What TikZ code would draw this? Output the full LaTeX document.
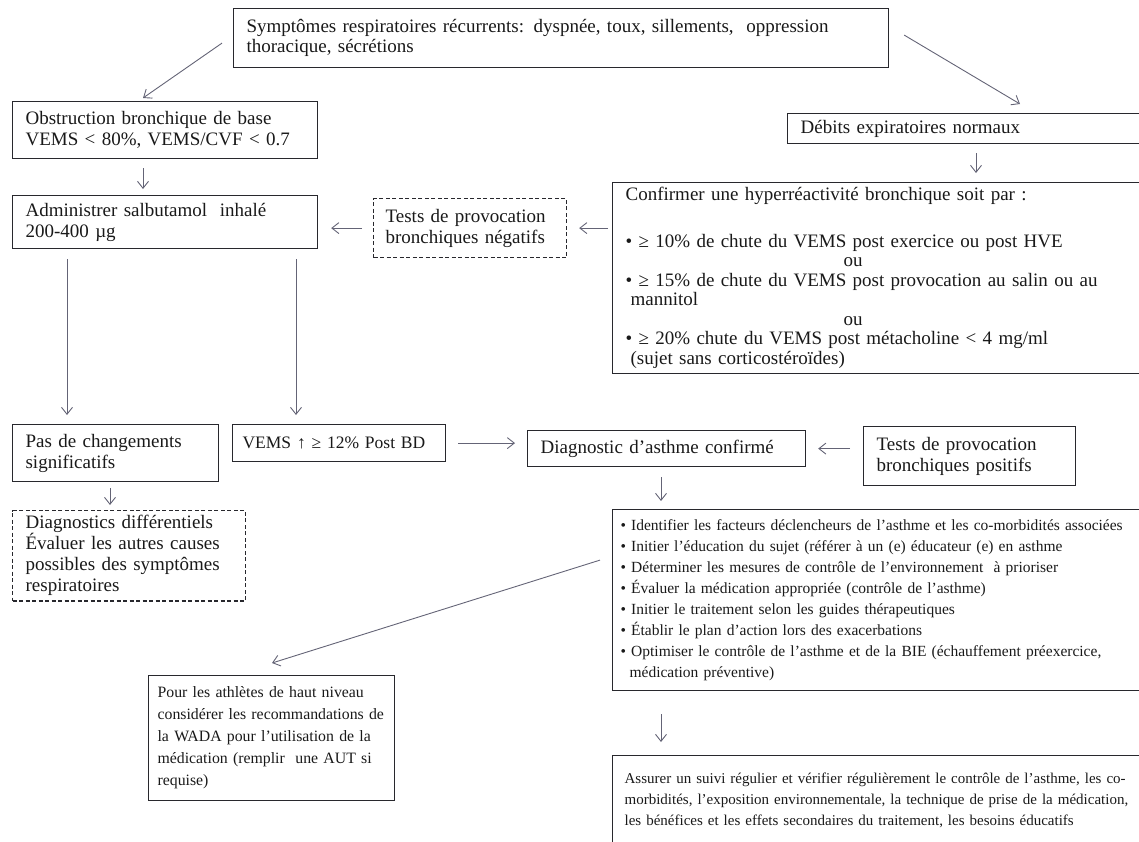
\documentclass[tikz,border=0pt]{standalone}
\usepackage{fontspec}
\setmainfont{Liberation Serif}
\definecolor{BoxLine}{RGB}{40,40,45}
\definecolor{ArrowGray}{RGB}{100,100,118}
\definecolor{TextDark}{RGB}{25,25,25}
\usetikzlibrary{arrows.meta,calc}
\newcommand{\fsz}[2]{\fontsize{#1}{#2}\selectfont}

\begin{document}
\begin{tikzpicture}[x=1pt,y=-1pt,
  box/.style={draw=BoxLine,line width=1.2pt,anchor=north west,align=left,
    inner xsep=13pt,inner ysep=5pt,text=TextDark,font=\fsz{19}{21}},
  dbox/.style={box,dash pattern=on 4pt off 2.5pt},
  arr/.style={ArrowGray,line width=0.9pt,-{Straight Barb[length=7pt,width=11pt]}}]
\useasboundingbox (0,0) rectangle (1139,841);
\clip (0,0) rectangle (1139,841);
% Symptoms
\node[box,text width=629pt,minimum height=59pt,font=\fsz{19}{20}] (symp) at (233,8)
  {Symptômes respiratoires récurrents: dyspnée, toux, sillements,~ oppression\\thoracique, sécrétions};
% Left column
\node[box,text width=279pt,minimum height=57pt] (obst) at (12,101)
  {Obstruction bronchique de base\\VEMS < 80\%, VEMS/CVF < 0.7};
\node[box,text width=279pt,minimum height=53pt] (salb) at (12,195)
  {Administrer salbutamol~ inhalé\\200-400 µg};
\node[dbox,inner xsep=12pt,text width=169pt,minimum height=59pt] (neg) at (373,198)
  {Tests de provocation\\bronchiques négatifs};
% Right column
\node[box,text width=347pt,minimum height=30pt] (deb) at (787,113) {Débits expiratoires normaux};
\node[box,text width=522pt,minimum height=190pt,font=\fsz{19}{19.5}] (conf) at (612,182)
  {Confirmer une hyperréactivité bronchique soit par :\\[27pt]
   • ≥ 10\% de chute du VEMS post exercice ou post HVE\\
   \hspace*{218pt}ou\\
   • ≥ 15\% de chute du VEMS post provocation au salin ou au\\
   \hspace*{5pt}mannitol\\
   \hspace*{218pt}ou\\
   • ≥ 20\% chute du VEMS post métacholine < 4 mg/ml\\
   \hspace*{5pt}(sujet sans corticostéroïdes)};
% Middle row
\node[box,text width=180pt,minimum height=57pt] (pas) at (12,424) {Pas de changements\\significatifs};
\node[box,inner xsep=10pt,text width=193pt,minimum height=37pt,font=\fsz{17.5}{21}] (vems) at (232,424) {VEMS ↑ ≥ 12\% Post BD};
\node[box,text width=252pt,minimum height=36pt] (diag) at (527,430) {Diagnostic d’asthme confirmé};
\node[box,text width=186pt,minimum height=59pt] (pos) at (863,426) {Tests de provocation\\bronchiques positifs};
% Lower boxes
\node[dbox,text width=207pt,minimum height=90pt] (diff) at (12,510)
  {Diagnostics différentiels\\Évaluer les autres causes\\possibles des symptômes\\respiratoires};
\node[box,inner xsep=8pt,text width=532pt,minimum height=181pt,font=\fsz{15.5}{21}] (plan) at (612,509)
  {• Identifier les facteurs déclencheurs de l’asthme et les co-morbidités associées\\
   • Initier l’éducation du sujet (référer à un (e) éducateur (e) en asthme\\
   • Déterminer les mesures de contrôle de l’environnement~ à prioriser\\
   • Évaluer la médication appropriée (contrôle de l’asthme)\\
   • Initier le traitement selon les guides thérapeutiques\\
   • Établir le plan d’action lors des exacerbations\\
   • Optimiser le contrôle de l’asthme et de la BIE (échauffement préexercice,\\
   \hspace*{9pt}médication préventive)};
\node[box,inner xsep=9pt,text width=228pt,minimum height=125pt,font=\fsz{15.8}{22}] (wada) at (148,675)
  {Pour les athlètes de haut niveau\\considérer les recommandations de\\la WADA pour l’utilisation de la\\médication (remplir~ une AUT si\\requise)};
\node[box,inner xsep=12pt,text width=524pt,minimum height=90pt,font=\fsz{15}{21}] (suivi) at (612,755)
  {Assurer un suivi régulier et vérifier régulièrement le contrôle de l’asthme, les co-\\
   morbidités, l’exposition environnementale, la technique de prise de la médication,\\
   les bénéfices et les effets secondaires du traitement, les besoins éducatifs};
% Arrows
\draw[arr] ($(symp.west)+(-11,5)$) -- ($(obst.north west)+(131,-3)$);
\draw[arr] ($(symp.east)+(15,-3)$) -- ($(deb.north west)+(233,-9)$);
\draw[arr] ($(deb.south west)+(189,9)$) -- ($(conf.north west)+(364,-9)$);
\draw[arr] ($(obst.south west)+(131,9)$) -- ($(salb.north west)+(131,-6)$);
\draw[arr] ($(neg.west)+(-11,0)$) -- ($(salb.east |- neg.west)+(13,0)$);
\draw[arr] ($(conf.west |- neg.west)+(-4,0)$) -- ($(neg.east)+(12,0)$);
\draw[arr] ($(salb.south west)+(55,10)$) -- ($(pas.north west)+(55,-9)$);
\draw[arr] ($(salb.south west)+(284,10)$) -- ($(vems.north west)+(64,-9)$);
\draw[arr] ($(vems.east)+(12,0)$) -- ($(diag.west |- vems.east)+(-12,0)$);
\draw[arr] ($(pos.west |- diag.east)+(-13,0)$) -- ($(diag.east)+(12,0)$);
\draw[arr] ($(diag.south west)+(134,10)$) -- ($(plan.north west)+(49,-8)$);
\draw[arr] ($(pas.south west)+(98,6)$) -- ($(diff.north west)+(98,-5)$);
\draw[arr] ($(plan.west)+(-12,-40)$) -- ($(wada.north west)+(124,-12)$);
\draw[arr] ($(plan.south west)+(49,23)$) -- ($(suivi.north west)+(49,-13)$);
\end{tikzpicture}
\end{document}
